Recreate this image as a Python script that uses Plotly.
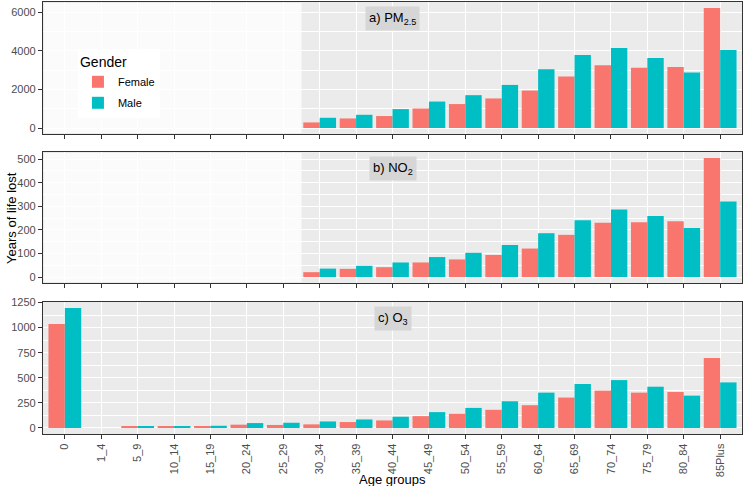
import plotly.graph_objects as go

ages = ["0", "1_4", "5_9", "10_14", "15_19", "20_24", "25_29", "30_34", "35_39",
        "40_44", "45_49", "50_54", "55_59", "60_64", "65_69", "70_74", "75_79",
        "80_84", "85Plus"]

pm_female = [None] * 7 + [290, 495, 620, 1010, 1240, 1530, 1940, 2660, 3250, 3120, 3160, 6210]
pm_male = [None] * 7 + [530, 685, 980, 1370, 1700, 2230, 3040, 3780, 4140, 3620, 2870, 4040]

no2_female = [None] * 7 + [21, 35, 42, 62, 75, 94, 121, 179, 230, 232, 237, 505]
no2_male = [None] * 7 + [36, 48, 62, 85, 103, 136, 186, 241, 286, 259, 208, 320]

o3_female = [1035, 0, 20, 19, 15, 33, 30, 36, 59, 75, 118, 141, 181, 227, 303, 372, 352, 359, 698]
o3_male = [1195, 0, 20, 17, 22, 49, 52, 65, 85, 112, 158, 200, 266, 352, 438, 477, 411, 322, 454]

panel_labels = ["a) PM<sub>2.5</sub>", "b) NO<sub>2</sub>", "c) O<sub>3</sub>"]
y_ticks = [[0, 2000, 4000, 6000], [0, 100, 200, 300, 400, 500], [0, 250, 500, 750, 1000, 1250]]
y_ranges = [[-310, 6520], [-25, 530], [-60, 1255]]

FEMALE = "#F8766D"
MALE = "#00BFC4"

series = [(pm_female, pm_male), (no2_female, no2_male), (o3_female, o3_male)]

fig = go.Figure()
for i, (fv, mv) in enumerate(series):
    ax = "" if i == 0 else str(i + 1)
    fig.add_trace(go.Bar(x=ages, y=fv, name="Female", marker_color=FEMALE,
                         marker_line_width=0, xaxis="x" + ax, yaxis="y" + ax,
                         showlegend=(i == 0), legendgroup="F"))
    fig.add_trace(go.Bar(x=ages, y=mv, name="Male", marker_color=MALE,
                         marker_line_width=0, xaxis="x" + ax, yaxis="y" + ax,
                         showlegend=(i == 0), legendgroup="M"))

domains = [[0.6944, 1.0], [0.3495, 0.6528], [0.0, 0.3056]]

layout = dict(
    width=744, height=486,
    margin=dict(l=43, r=2, t=2, b=52),
    paper_bgcolor="white",
    plot_bgcolor="#EBEBEB",
    barmode="group", bargap=0.1, bargroupgap=0,
    font=dict(family="Liberation Sans, Arial, sans-serif", color="#4D4D4D", size=11),
    legend=dict(x=0.05, y=0.891, xanchor="left", yanchor="top",
                bgcolor="white", borderwidth=0,
                title=dict(text="Gender", font=dict(size=14, color="black")),
                font=dict(size=11, color="black"),
                tracegroupgap=2),
)

for i in range(3):
    ax = "" if i == 0 else str(i + 1)
    layout["xaxis" + ax] = dict(
        domain=[0, 1], anchor="y" + ax, type="category",
        categoryorder="array", categoryarray=ages,
        range=[-0.6, 18.6], automargin=False,
        showgrid=True, gridcolor="white", gridwidth=1.1,
        showline=True, linecolor="#333333", linewidth=1.3, mirror=True,
        ticks="outside", ticklen=4, tickcolor="#333333", tickwidth=1,
        showticklabels=(i == 2), tickangle=-90,
        tickfont=dict(size=11, color="#4D4D4D"),
        zeroline=False,
    )
    if i > 0:
        layout["xaxis" + ax]["matches"] = "x"
    layout["yaxis" + ax] = dict(
        domain=domains[i], anchor="x" + ax,
        range=y_ranges[i], tickvals=y_ticks[i], automargin=False,
        showgrid=True, gridcolor="white", gridwidth=1.1,
        minor=dict(showgrid=True, gridcolor="white", gridwidth=0.5,
                   dtick=(y_ticks[i][1] - y_ticks[i][0]) / 2, tick0=0),
        showline=True, linecolor="#333333", linewidth=1.3, mirror=True,
        ticks="outside", ticklen=4, tickcolor="#333333", tickwidth=1,
        tickfont=dict(size=11, color="#4D4D4D"),
        zeroline=False,
    )

fig.update_layout(**layout)

shapes = []
annotations = []
for i in range(3):
    ax = "" if i == 0 else str(i + 1)
    if i < 2:
        shapes.append(dict(type="rect", xref="x" + ax, yref="y" + ax + " domain",
                           x0=-0.57, x1=6.5, y0=0.008, y1=0.992,
                           fillcolor="white", opacity=0.8, line_width=0,
                           layer="above"))
    annotations.append(dict(text=panel_labels[i], xref="x" + ax + " domain",
                            yref="y" + ax + " domain", x=0.5, y=1 - 16.5 / 132,
                            xanchor="center", yanchor="middle", showarrow=False,
                            bgcolor="#D6D6D6", borderpad=3,
                            font=dict(size=13, color="black")))

annotations.append(dict(text="Years of life lost", xref="paper", yref="paper",
                        x=-43 / 699 + 0.002, y=(434 - 218) / 432, xanchor="left",
                        yanchor="middle", textangle=-90, showarrow=False,
                        font=dict(size=13, color="black")))
annotations.append(dict(text="Age groups", xref="paper", yref="paper",
                        x=0.5, y=(434 - 479) / 432, xanchor="center",
                        yanchor="middle", showarrow=False,
                        font=dict(size=13, color="black")))

fig.update_layout(shapes=shapes, annotations=annotations)

fig.write_html("out.html")
